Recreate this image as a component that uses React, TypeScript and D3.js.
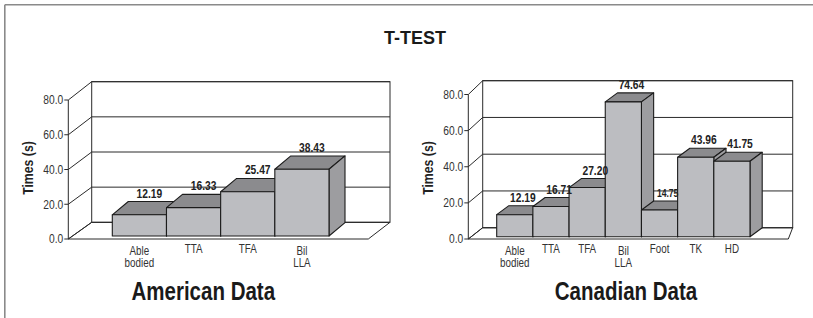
import React from 'react';
import * as d3 from 'd3';

// values
const americanCategories = [['Able', 'bodied'], ['TTA'], ['TFA'], ['Bil', 'LLA']];
const americanValues = [12.19, 16.33, 25.47, 38.43];

const canadianCategories = [['Able', 'bodied'], ['TTA'], ['TFA'], ['Bil', 'LLA'], ['Foot'], ['TK'], ['HD']];
const canadianValues = [12.19, 16.71, 27.2, 74.64, 14.75, 43.96, 41.75];

const yTicks = [0, 20, 40, 60, 80];

const SANS = '"Liberation Sans", Arial, sans-serif';
const NARROW_SCALE = 0.82; // no narrow face installed: squeeze Liberation Sans like Arial Narrow

type Layout = {
  axisX: number; backLeftX: number; backRightX: number; floorRightX: number;
  front: [number, number]; back: [number, number];
  bars: [number, number]; shiftY: number; barDX: number; barDY: number;
  titleX: number; title: string; yTitleX: number;
};

const leftLayout: Layout = {
  axisX: 68.3, backLeftX: 91.7, backRightX: 390, floorRightX: 368.3,
  front: [239, 100], back: [222.3, 81.7],
  bars: [112.3, 329], shiftY: -3, barDX: 16, barDY: -13.3,
  titleX: 203.3, title: 'American Data', yTitleX: 28.3,
};

const rightLayout: Layout = {
  axisX: 468.3, backLeftX: 482.7, backRightX: 792.7, floorRightX: 788.3,
  front: [239, 94.5], back: [227.7, 80.7],
  bars: [496.7, 750], shiftY: -2.3, barDX: 12.2, barDY: -9,
  titleX: 626, title: 'Canadian Data', yTitleX: 428.3,
};

const LINE = '#2a2a2a';

function NText({ x, y, anchor = 'middle', size, bold = false, rotate = 0, dy, fill = '#222', children }: any) {
  return (
    <g transform={`translate(${x},${y}) rotate(${rotate}) scale(${NARROW_SCALE},1)`}>
      <text textAnchor={anchor} dy={dy} fontFamily={SANS} fontSize={size} fontWeight={bold ? 'bold' : 'normal'} fill={fill}>
        {children}
      </text>
    </g>
  );
}

function Panel({ categories, values, L }: { categories: string[][]; values: number[]; L: Layout }) {
  const yF = d3.scaleLinear().domain([0, 80]).range(L.front);
  const yB = d3.scaleLinear().domain([0, 80]).range(L.back);
  const x = d3.scaleBand<number>().domain(values.map((_, i) => i)).range(L.bars).padding(0);
  const w = x.bandwidth();
  const fmt = d3.format('.2f');

  return (
    <g>
      {/* floor */}
      <polygon
        points={`${L.axisX},${yF(0)} ${L.backLeftX},${yB(0)} ${L.backRightX},${yB(0)} ${L.floorRightX},${yF(0)}`}
        fill="#fff" stroke={LINE} strokeWidth={1}
      />
      {/* back wall */}
      <rect x={L.backLeftX} y={yB(80)} width={L.backRightX - L.backLeftX} height={yB(0) - yB(80)}
        fill="#fff" stroke={LINE} strokeWidth={1} />
      {yTicks.map(t => (
        <g key={t}>
          <line x1={L.backLeftX} x2={L.backRightX} y1={yB(t)} y2={yB(t)} stroke={LINE} strokeWidth={1} />
          <line x1={L.axisX} x2={L.backLeftX} y1={yF(t)} y2={yB(t)} stroke={LINE} strokeWidth={1} />
          <line x1={L.axisX - 4} x2={L.axisX} y1={yF(t)} y2={yF(t)} stroke={LINE} strokeWidth={1} />
          <NText x={L.axisX - 5} y={yF(t)} dy="0.35em" anchor="end" size={12.5} fill="#333">
            {d3.format('.1f')(t)}
          </NText>
        </g>
      ))}
      <line x1={L.axisX} x2={L.axisX} y1={yF(0)} y2={yF(80)} stroke={LINE} strokeWidth={1} />

      {/* bars */}
      {values.map((v, i) => {
        const x0 = x(i)!;
        const x1 = x0 + w;
        const base = yF(0) + L.shiftY;
        const top = yF(v) + L.shiftY;
        const dx = L.barDX, dy = L.barDY;
        return (
          <g key={i} stroke="#1c1c1c" strokeWidth={1.1} strokeLinejoin="round">
            <polygon points={`${x0},${top} ${x0 + dx},${top + dy} ${x1 + dx},${top + dy} ${x1},${top}`} fill="#8b8b8e" />
            <polygon points={`${x1},${top} ${x1 + dx},${top + dy} ${x1 + dx},${base + dy} ${x1},${base}`} fill="#9d9da0" />
            <rect x={x0} y={top} width={w} height={base - top} fill="#bcbdc1" />
          </g>
        );
      })}

      {/* value labels */}
      {values.map((v, i) => {
        const cx = x(i)! + w / 2 + L.barDX / 2 + 2;
        const y = yF(v) + L.shiftY + L.barDY - 4;
        const prev = values[i - 1], next = values[i + 1];
        const squeezed = prev !== undefined && next !== undefined && prev > v + 10 && next > v + 10;
        return (
          <NText key={i} x={cx} y={y} bold size={squeezed ? 10.5 : 12.5}>
            {fmt(v)}
          </NText>
        );
      })}

      {/* category labels */}
      {categories.map((lines, i) => {
        const cx = x(i)! + w / 2;
        const first = lines.length > 1 ? 254.5 : 253;
        return (
          <g key={i}>
            {lines.map((s, j) => (
              <NText key={j} x={cx} y={first + j * 12.2} size={12} fill="#333">{s}</NText>
            ))}
          </g>
        );
      })}

      <NText x={L.yTitleX + 5} y={168} rotate={-90} bold size={15}>Times (s)</NText>

      <NText x={L.titleX} y={299.7} bold size={25} fill="#1a1a1a">{L.title}</NText>
    </g>
  );
}

export default function App() {
  return (
    <svg width={813} height={318} style={{ position: 'absolute', left: 0, top: 0, background: '#fff' }}>
      <rect x={0} y={0} width={813} height={318} fill="#fff" />
      <line x1={4.8} x2={813} y1={4.8} y2={4.8} stroke="#8a8a8a" strokeWidth={1.6} />
      <line x1={4.8} x2={4.8} y1={4.8} y2={318} stroke="#8a8a8a" strokeWidth={1.6} />
      <text x={415} y={44} textAnchor="middle" fontFamily={SANS} fontWeight="bold" fontSize={18} fill="#1a1a1a">T-TEST</text>
      <Panel categories={americanCategories} values={americanValues} L={leftLayout} />
      <Panel categories={canadianCategories} values={canadianValues} L={rightLayout} />
    </svg>
  );
}
